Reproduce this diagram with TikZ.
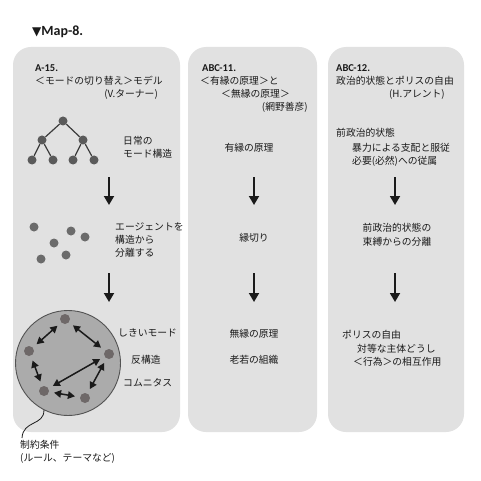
\documentclass[tikz,border=0pt]{standalone}
\usepackage{fontspec}
\setmainfont{Noto Sans CJK JP}
\newfontfamily\latinfont{Carlito}
\newfontfamily\symfont{DejaVu Sans}
\usetikzlibrary{arrows.meta}
\definecolor{panelgray}{HTML}{E1E1E1}
\definecolor{circgray}{HTML}{ABABAB}
\definecolor{dotgray}{HTML}{5A5A5A}
\definecolor{cdotgray}{HTML}{6E6868}
\definecolor{inkc}{HTML}{1A1A1A}
\begin{document}
\begin{tikzpicture}[x=1pt,y=-1pt,
  panel/.style={fill=panelgray, rounded corners=18pt},
  txt/.style={inner sep=0pt, anchor=west, text=inkc, font=\fontsize{9.8}{11}\selectfont},
  txtc/.style={txt, anchor=center},
  txte/.style={txt, anchor=east},
  hd/.style={inner sep=0pt, anchor=west, text=inkc, font=\latinfont\bfseries\fontsize{10.5}{12}\selectfont},
  dn/.style={-{Triangle[width=10pt,length=9pt]}, line width=1.8pt, inkc},
  tdot/.style={circle, fill=dotgray, inner sep=0pt, minimum size=9pt},
  sdot/.style={circle, fill=dotgray!90, inner sep=0pt, minimum size=9pt},
  cdot/.style={circle, fill=cdotgray, inner sep=0pt, minimum size=10pt},
  edge/.style={line width=1.2pt, inkc!85},
  bi/.style={{Triangle[width=7.5pt,length=7pt]}-{Triangle[width=7.5pt,length=7pt]}, line width=1.5pt, inkc, shorten <=5pt, shorten >=5pt}
]
\fill[white] (0,0) rectangle (481,481);
\useasboundingbox (0,0) rectangle (481,481);

% title
\node[inner sep=0pt, anchor=west, text=inkc] (title) at (32,32) {{\symfont\fontsize{12}{13}\selectfont ▼}{\latinfont\bfseries\fontsize{14}{16}\selectfont Map-8.}};

% panels
\fill[panel] (13,47) rectangle (180,432);
\fill[panel] (188,47) rectangle (317,432);
\fill[panel] (328,47) rectangle (464,432);

% panel 1 headers
\node[hd] (h1) at (35,68) {A-15.};
\node[txt] (h1a) at (35,81) {＜モードの切り替え＞モデル};
\node[txte] (h1b) at (158,94) {(V.ターナー)};

% panel 2 headers
\node[hd] (h2) at (202,68) {ABC-11.};
\node[txt] (h2a) at (200,81) {＜有縁の原理＞と};
\node[txt] (h2b) at (221,94) {＜無縁の原理＞};
\node[txte] (h2c) at (308,107) {(網野善彦)};

% panel 3 headers
\node[hd] (h3) at (336,68) {ABC-12.};
\node[txt] (h3a) at (336,81) {政治的状態とポリスの自由};
\node[txte] (h3b) at (445,94) {(H.アレント)};

% panel 1: tree
\node[tdot] (r) at (63,121) {};
\node[tdot] (a1) at (42,140) {};
\node[tdot] (a2) at (83,140) {};
\node[tdot] (b1) at (32,160) {};
\node[tdot] (b2) at (53,160) {};
\node[tdot] (b3) at (73,160) {};
\node[tdot] (b4) at (94,160) {};
\draw[edge] (r) -- (a1);
\draw[edge] (r) -- (a2);
\draw[edge] (a1) -- (b1);
\draw[edge] (a1) -- (b2);
\draw[edge] (a2) -- (b3);
\draw[edge] (a2) -- (b4);
\node[txt] (t1a) at (123,141) {日常の};
\node[txt] (t1b) at (123,154) {モード構造};

\coordinate (p1s) at (109,177);
\coordinate (p1e) at (109,205);
\draw[dn] (p1s) -- (p1e);

% scattered dots
\node[sdot] (s1) at (34,227) {};
\node[sdot] (s2) at (71,231) {};
\node[sdot] (s3) at (85,237) {};
\node[sdot] (s4) at (54,243) {};
\node[sdot] (s5) at (66,255) {};
\node[sdot] (s6) at (41,259) {};
\node[txt] (t2a) at (115,227) {エージェントを};
\node[txt] (t2b) at (115,240) {構造から};
\node[txt] (t2c) at (115,253) {分離する};

\coordinate (p1s2) at (109,273);
\coordinate (p1e2) at (109,302);
\draw[dn] (p1s2) -- (p1e2);

% circle
\node[circle, minimum size=105pt, inner sep=0pt, fill=circgray, draw=inkc!75, line width=0.9pt] (circ) at (68,363) {};
\node[cdot] (c1) at (65,319) {};
\node[cdot] (c2) at (29,351) {};
\node[cdot] (c3) at (109,354) {};
\node[cdot] (c4) at (44,391) {};
\node[cdot] (c5) at (85,398) {};
\draw[bi] (c2) -- (c1);
\draw[bi] (c1) -- (c3);
\draw[bi] (c2) -- (c4);
\draw[bi] (c3) -- (c4);
\draw[bi] (c3) -- (c5);
\draw[bi] (c4) -- (c5);
\node[txt] (t3a) at (118,333) {しきいモード};
\node[txt] (t3b) at (131,360) {反構造};
\node[txt] (t3c) at (123,383) {コムニタス};

\coordinate (cc) at (22,438);
\draw[line width=0.8pt, inkc] (circ.243) .. controls (44,426) and (23,420) .. (cc);
\node[txt] (t4a) at (20,445) {制約条件};
\node[txt] (t4b) at (20,458) {(ルール、テーマなど)};

% panel 2 body
\node[txtc] (u1) at (249,148) {有縁の原理};
\coordinate (p2s) at (254,177);
\coordinate (p2e) at (254,205);
\draw[dn] (p2s) -- (p2e);
\node[txtc] (u2) at (254,238) {縁切り};
\coordinate (p2s2) at (254,273);
\coordinate (p2e2) at (254,302);
\draw[dn] (p2s2) -- (p2e2);
\node[txtc] (u3) at (254,334) {無縁の原理};
\node[txtc] (u4) at (254,360) {老若の組織};

% panel 3 body
\node[txt] (v1) at (336,133) {前政治的状態};
\node[txt] (v2) at (352,148) {暴力による支配と服従};
\node[txt] (v3) at (352,161) {必要(必然)への従属};
\coordinate (p3s) at (395,177);
\coordinate (p3e) at (395,205);
\draw[dn] (p3s) -- (p3e);
\node[txtc] (v4) at (397,228) {前政治的状態の};
\node[txtc] (v5) at (397,242) {束縛からの分離};
\coordinate (p3s2) at (395,273);
\coordinate (p3e2) at (395,302);
\draw[dn] (p3s2) -- (p3e2);
\node[txt] (v6) at (342,335) {ポリスの自由};
\node[txt] (v7) at (357,349) {対等な主体どうし};
\node[txt] (v8) at (353,362) {＜行為＞の相互作用};
\end{tikzpicture}
\end{document}
